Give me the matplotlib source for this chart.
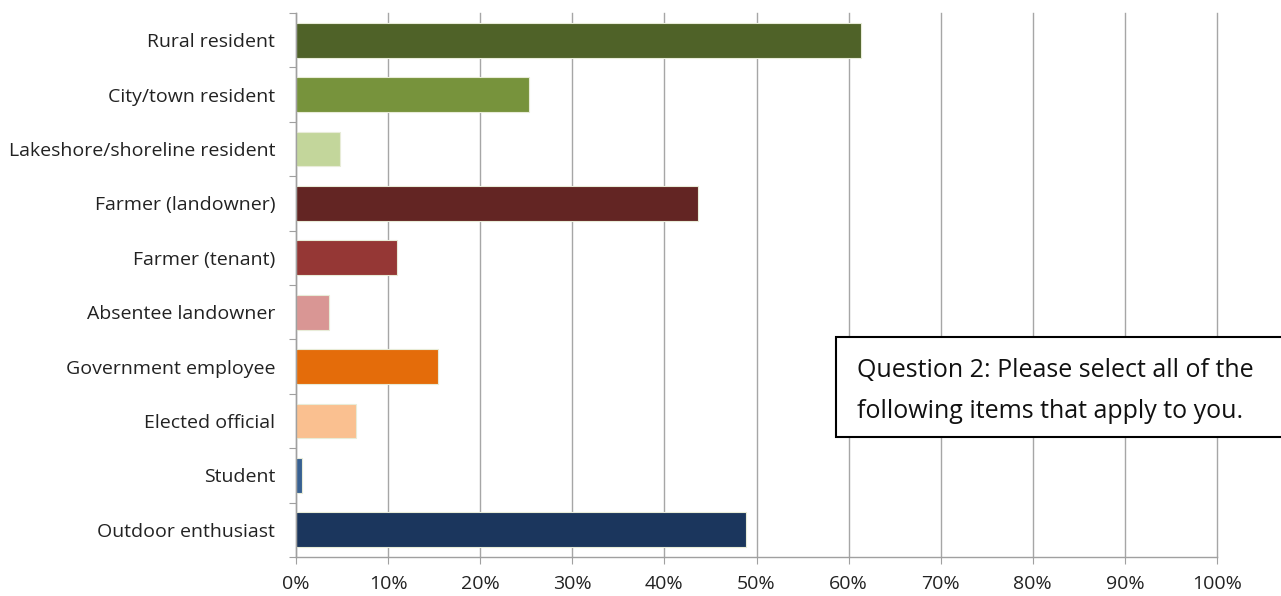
import matplotlib
matplotlib.use("Agg")
import matplotlib.pyplot as plt
from matplotlib.patches import Rectangle
import numpy as np

categories = ["Rural resident", "City/town resident", "Lakeshore/shoreline resident",
              "Farmer (landowner)", "Farmer (tenant)", "Absentee landowner",
              "Government employee", "Elected official", "Student", "Outdoor enthusiast"]
values = [61.4, 25.3, 4.75, 43.7, 11.0, 3.6, 15.4, 6.55, 0.7, 48.9]
colors = ["#4f6228", "#77933c", "#c3d69b", "#632523", "#953735", "#d99694",
          "#e46c0a", "#fac090", "#376092", "#1b365d"]
xticks = list(range(0, 101, 10))
xticklabels = [f"{v}%" for v in xticks]
note = "Question 2: Please select all of the\nfollowing items that apply to you."

plt.rcParams['font.family'] = ['Open Sans', 'DejaVu Sans']

fig = plt.figure(figsize=(12.81, 5.96), dpi=100)
ax = fig.add_axes([296/1281, 1-557/596, (1217-296)/1281, (557-13)/596])

n = len(categories)
y = np.arange(n)
ax.barh(y, values, height=0.64, color=colors, edgecolor="#e8ecd8", linewidth=0.8, zorder=3)
ax.set_ylim(n - 0.5, -0.5)
ax.set_xlim(0, 100)

ax.set_xticks(xticks)
ax.set_xticklabels(xticklabels, fontsize=14, color="#222222")
ax.tick_params(axis='x', length=5, color="#a0a0a0", pad=8)

ax.set_yticks(np.arange(n + 1) - 0.5)
ax.set_yticklabels([])
ax.tick_params(axis='y', which='major', length=5, color="#a0a0a0")
ax.set_yticks(y, minor=True)
ax.set_yticklabels(categories, minor=True, fontsize=14, color="#222222")
ax.tick_params(axis='y', which='minor', length=0, pad=15)

ax.grid(axis='x', color="#a6a6a6", linewidth=1.0, zorder=0)
for gl in ax.get_xgridlines():
    gl.set_clip_on(False)
ax.set_axisbelow(True)
for s in ["top", "right"]:
    ax.spines[s].set_visible(False)
for s in ["left", "bottom"]:
    ax.spines[s].set_color("#a0a0a0")
    ax.spines[s].set_linewidth(1.0)
    ax.spines[s].set_zorder(4)

rect = Rectangle((836/1281, 1-437/596), 500/1281, 100/596, transform=fig.transFigure,
                 facecolor="white", edgecolor="black", linewidth=1.5, zorder=10)
fig.patches.append(rect)
fig.text(857/1281, 1-391/596, note, fontsize=18, color="#111111", va="center", ha="left",
         linespacing=1.8, zorder=11)

fig.savefig("out.png", dpi=100)
